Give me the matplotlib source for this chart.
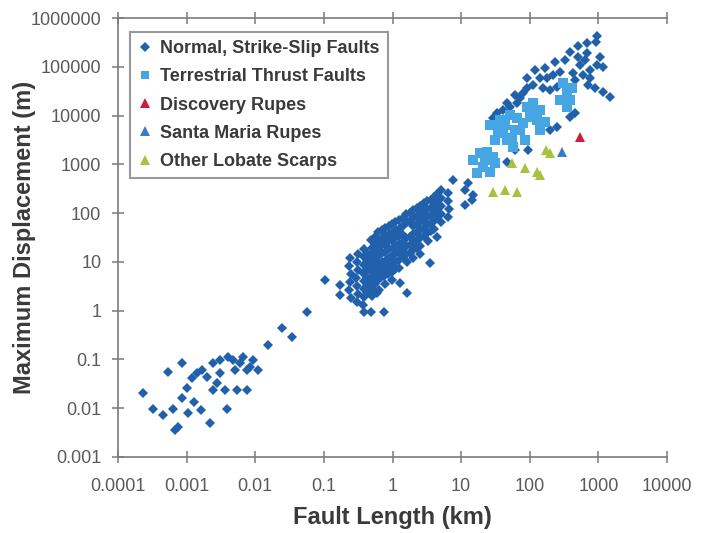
import matplotlib
matplotlib.use("Agg")
import matplotlib.pyplot as plt
from matplotlib.lines import Line2D

plt.rcParams['font.family'] = ['Liberation Sans', 'DejaVu Sans']

# ---------------- data ----------------
# Normal, strike-slip faults: fault length (km), max displacement (m)
normal_length = [
    # metre-scale faults
    0.00023, 0.00032, 0.00045, 0.00054, 0.00063, 0.00068, 0.00075, 0.00086, 0.00086,
    0.00101, 0.00105, 0.0012, 0.0013, 0.0014, 0.0016, 0.0017, 0.002, 0.0022, 0.0024,
    0.0024, 0.0031, 0.0036, 0.0039, 0.004, 0.0047, 0.0051, 0.0054, 0.006, 0.0076,
    0.0076, 0.0093, 0.011, 0.0066, 0.0084, 0.0028, 0.0031,
    0.0154, 0.0246, 0.0344, 0.057, 0.104, 0.172, 0.172,
    # km-scale faults
    0.24, 0.23, 0.25, 0.24, 0.23, 0.25,
    0.31, 0.30, 0.31, 0.29, 0.30, 0.31, 0.30,
    0.39, 0.38, 0.39, 0.37, 0.38, 0.39, 0.38, 0.37, 0.38,
    0.48, 0.50, 0.49, 0.48, 0.50, 0.49, 0.47, 0.50, 0.49,
    0.62, 0.63, 0.61, 0.62, 0.63, 0.61, 0.62, 0.63, 0.60,
    0.78, 0.79, 0.77, 0.78, 0.80, 0.78, 0.76, 0.79, 0.74,
    0.98, 1.0, 0.97, 1.0, 0.98, 1.01, 0.99, 0.97,
    1.25, 1.27, 1.24, 1.26, 1.25, 1.23, 1.26, 1.28,
    1.58, 1.60, 1.57, 1.59, 1.56, 1.60, 1.62,
    2.0, 2.02, 1.98, 2.0, 2.03, 1.99, 2.01,
    2.5, 2.52, 2.48, 2.5, 2.53, 2.49, 2.5,
    3.2, 3.15, 3.22, 3.18, 3.2, 3.25, 3.5,
    4.0, 4.05, 3.98, 4.02, 4.5, 4.0,
    5.1, 5.05, 5.15, 5.1, 5.1,
    6.5, 6.4, 6.6, 6.5,
    7.6, 12.6, 11.4, 15, 11.4, 14.5,
    # dense core of the km-scale cloud
    0.43, 0.43, 0.44, 0.43, 0.42, 0.43,
    0.55, 0.56, 0.55, 0.54, 0.55, 0.56, 0.55, 0.54,
    0.70, 0.71, 0.69, 0.70, 0.71, 0.70, 0.69,
    0.88, 0.89, 0.87, 0.88, 0.89, 0.88, 0.87,
    1.1, 1.12, 1.09, 1.1, 1.11, 1.1, 1.08,
    1.4, 1.42, 1.39, 1.4, 1.41, 1.4,
    1.8, 1.82, 1.79, 1.8, 1.81,
    2.25, 2.27, 2.24, 2.25, 2.26, 2.25,
    2.85, 2.87, 2.84, 2.85, 2.86,
    3.6, 3.62, 3.58, 3.6, 3.61,
    4.5, 4.52, 4.48, 4.5,
    # 100-km-scale faults
    961, 929, 687, 508, 687, 508, 1062, 961, 1175, 543, 430, 710, 898, 1175, 1486,
    277, 219, 179, 142, 251, 198, 157, 112, 92, 80, 72, 65.5, 52, 41, 33.5, 29.3,
    600, 759, 198, 251, 388, 459, 95, 61, 47,
    120, 167, 234, 328, 388, 643, 459, 759, 91.6, 61.2, 46.9,
]
normal_disp = [
    0.021, 0.0097, 0.0073, 0.056, 0.0097, 0.0036, 0.0042, 0.085, 0.016,
    0.026, 0.008, 0.042, 0.0135, 0.053, 0.0093, 0.061, 0.044, 0.005, 0.085,
    0.024, 0.053, 0.024, 0.0097, 0.113, 0.098, 0.061, 0.024, 0.085, 0.024,
    0.061, 0.098, 0.061, 0.113, 0.070, 0.033, 0.098,
    0.20, 0.44, 0.29, 0.94, 4.3, 3.4, 2.1,
    12, 8.3, 5.7, 3.9, 2.7, 1.8,
    14.6, 10, 6.9, 4.7, 3.2, 2.2, 1.5,
    18.5, 12.6, 8.7, 6.0, 4.1, 2.8, 1.9, 1.3, 0.94,
    28, 19.4, 13.3, 9.1, 6.2, 4.3, 2.9, 2.0, 0.94,
    41, 28, 19.4, 13.3, 9.1, 6.2, 4.3, 2.7, 2.3,
    50, 34, 23.4, 16, 11, 7.5, 5.2, 3.5, 0.94,
    60, 41, 28, 19.4, 13.3, 9.1, 6.2, 4.3,
    73, 50, 34, 23.4, 16, 11, 7.5, 3.7,
    96, 66, 31, 21.3, 14.6, 10, 2.3,
    116, 80, 55, 37.5, 25.7, 17.6, 12.1,
    141, 96, 66, 45, 31, 21.3, 14.6,
    178, 122, 84, 57, 39, 27, 9.5,
    215, 147, 101, 69, 32.5, 47,
    299, 205, 141, 96, 66,
    259, 178, 122, 84,
    479, 416, 299, 236, 147, 186,
    15, 10.5, 7.2, 5.0, 3.4, 2.4,
    33, 23, 16, 11, 7.6, 5.2, 3.6, 2.5,
    45, 31, 21, 15, 10, 7.0, 4.8,
    55, 38, 26, 18, 12, 8.3, 5.7,
    66, 45, 31, 21, 15, 10, 7.0,
    80, 55, 38, 26, 18, 12.5,
    100, 70, 32, 22, 15,
    128, 88, 60, 41, 28, 19,
    160, 110, 75, 50, 34,
    190, 130, 90, 62, 42,
    250, 170, 118, 80,
    427000, 322000, 307000, 267000, 192000, 159000, 159000, 109000, 99000, 109000,
    75000, 42400, 36800, 30500, 24000,
    78000, 68000, 59000, 59000, 38500, 33500, 36800, 42400, 36800, 29000, 23000,
    18100, 15000, 13000, 11300, 8930,
    68000, 86000, 5070, 5840, 9350, 11300, 1970, 1970, 1120,
    86000, 94400, 125000, 138000, 201000, 138000, 54000, 59000, 59000, 26400, 18100,
]

# Terrestrial thrust faults
thrust_length = [34.6, 41, 46.9, 57.3, 55.3, 72.4, 80.1, 101, 91.6, 112, 142, 128, 142,
                 43.8, 65.5, 307, 351, 388, 351,
                 15, 18.9, 23.9, 29.3, 20.9, 17.1, 26.5, 31.3, 22.4,
                 26.5, 31.3, 37, 51.8, 61.2, 85.7, 120, 167, 277, 415]
thrust_disp = [5070, 4400, 3160, 2270, 3470, 5070, 7050, 9350, 15000, 18100, 13000, 8130, 5070,
               6410, 8930, 46500, 29000, 20900, 15000,
               1230, 1710, 1790, 1420, 885, 667, 698, 1070, 1230,
               6410, 3160, 8130, 10300, 5070, 3160, 11900, 7400, 20900, 36800]

# Discovery Rupes
discovery_length = [543]
discovery_disp = [3640]

# Santa Maria Rupes
santamaria_length = [297]
santamaria_disp = [1790]

# Other lobate scarps
lobate_length = [29.3, 43.8, 65.5, 55.3, 85.7, 128, 142, 173, 198]
lobate_disp = [272, 299, 272, 1070, 845, 698, 607, 1970, 1710]

x_ticks = [1e-4, 1e-3, 1e-2, 1e-1, 1, 10, 100, 1000, 10000]
x_tick_labels = ["0.0001", "0.001", "0.01", "0.1", "1", "10", "100", "1000", "10000"]
y_ticks = [1e-3, 1e-2, 1e-1, 1, 10, 100, 1000, 10000, 100000, 1000000]
y_tick_labels = ["0.001", "0.01", "0.1", "1", "10", "100", "1000", "10000", "100000", "1000000"]

series_labels = ["Normal, Strike-Slip Faults", "Terrestrial Thrust Faults",
                 "Discovery Rupes", "Santa Maria Rupes", "Other Lobate Scarps"]

# ---------------- style ----------------
c_normal = "#2160aa"
c_thrust = "#45a6e3"
c_disc = "#c8203c"
c_sm = "#3a7cc4"
c_lob = "#a6c23e"
axis_gray = "#7a7a7a"
text_dark = "#3a3a3a"

ms_d, ms_s, ms_t = 5.6, 7.2, 7.8

fig = plt.figure(figsize=(7.08, 5.33), dpi=100)
ax = fig.add_axes([0.1667, 0.1426, 0.7754, 0.8236])
ax.set_xscale('log')
ax.set_yscale('log')

ax.plot(normal_length, normal_disp, linestyle='none', marker='D', markersize=ms_d,
        color=c_normal, markeredgewidth=0)
ax.plot(thrust_length, thrust_disp, linestyle='none', marker='s', markersize=ms_s,
        color=c_thrust, markeredgewidth=0)
ax.plot(lobate_length, lobate_disp, linestyle='none', marker='^', markersize=ms_t,
        color=c_lob, markeredgewidth=0)
ax.plot(santamaria_length, santamaria_disp, linestyle='none', marker='^', markersize=ms_t,
        color=c_sm, markeredgewidth=0)
ax.plot(discovery_length, discovery_disp, linestyle='none', marker='^', markersize=ms_t,
        color=c_disc, markeredgewidth=0)

ax.set_xlim(1e-4, 1e4)
ax.set_ylim(1e-3, 1e6)
ax.set_xticks(x_ticks)
ax.set_xticklabels(x_tick_labels)
ax.set_yticks(y_ticks)
ax.set_yticklabels(y_tick_labels)
ax.minorticks_off()

for side in ['left', 'bottom', 'top']:
    ax.spines[side].set_color(axis_gray)
    ax.spines[side].set_linewidth(1.2)
ax.spines['right'].set_visible(False)

ax.tick_params(axis='both', which='major', direction='inout', length=8, width=1.1,
               color=axis_gray, labelsize=13, labelcolor="#5a5a5a")
ax.tick_params(axis='x', top=True, labeltop=False, pad=11)
ax.tick_params(axis='y', pad=8)

ax.set_xlabel("Fault Length (km)", fontsize=17, fontweight='bold', color=text_dark)
ax.set_ylabel("Maximum Displacement (m)", fontsize=17, fontweight='bold', color=text_dark)
ax.xaxis.set_label_coords(0.5, -0.112)
ax.yaxis.set_label_coords(-0.149, 0.5)

handles = [
    Line2D([], [], linestyle='none', marker='D', markersize=4.6, color=c_normal, markeredgewidth=0),
    Line2D([], [], linestyle='none', marker='s', markersize=6.2, color=c_thrust, markeredgewidth=0),
    Line2D([], [], linestyle='none', marker='^', markersize=7, color=c_disc, markeredgewidth=0),
    Line2D([], [], linestyle='none', marker='^', markersize=7, color=c_sm, markeredgewidth=0),
    Line2D([], [], linestyle='none', marker='^', markersize=7, color=c_lob, markeredgewidth=0),
]
leg = ax.legend(handles, series_labels, loc='upper left', bbox_to_anchor=(0.022, 0.968),
                borderaxespad=0, fancybox=False, frameon=True, handlelength=0.8,
                handletextpad=0.4, labelspacing=0.62, borderpad=0.45,
                prop={'size': 13, 'weight': 'bold'})
leg.get_frame().set_edgecolor("#808080")
leg.get_frame().set_linewidth(1.5)
for t in leg.get_texts():
    t.set_color(text_dark)

fig.savefig("out.png", dpi=100)
